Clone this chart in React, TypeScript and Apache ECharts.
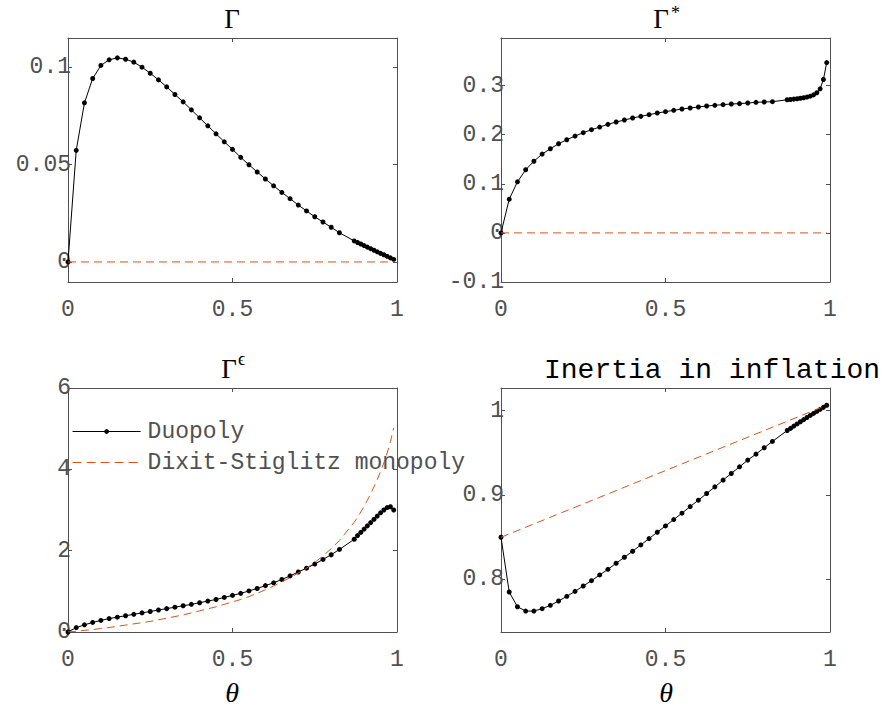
import React, { useEffect, useRef } from "react";
import * as echarts from "echarts";

// θ grid shared by the duopoly curves
const theta = [0, 0.025, 0.05, 0.075, 0.1, 0.125, 0.15, 0.175, 0.2, 0.225, 0.25, 0.275, 0.3, 0.325, 0.35, 0.375, 0.4, 0.425, 0.45, 0.475, 0.5, 0.525, 0.55, 0.575, 0.6, 0.625, 0.65, 0.675, 0.7, 0.725, 0.75, 0.775, 0.8, 0.825, 0.87, 0.88, 0.89, 0.9, 0.91, 0.92, 0.93, 0.94, 0.95, 0.96, 0.97, 0.98, 0.99];

// Γ (duopoly)
const gammaDuo = [0, 0.0573, 0.0817, 0.0942, 0.1009, 0.1038, 0.1048, 0.1041, 0.1026, 0.1, 0.0969, 0.0935, 0.0899, 0.086, 0.0822, 0.0781, 0.074, 0.0699, 0.0658, 0.0617, 0.0578, 0.0537, 0.0499, 0.0462, 0.0426, 0.0391, 0.0357, 0.0325, 0.0292, 0.0262, 0.0232, 0.0205, 0.0178, 0.015, 0.0108, 0.01, 0.0092, 0.0084, 0.0076, 0.0068, 0.006, 0.0052, 0.0044, 0.0037, 0.0029, 0.0021, 0.0013];
// Γ* (duopoly)
const gammaStarDuo = [0, 0.0687, 0.104, 0.1286, 0.146, 0.1605, 0.1714, 0.1816, 0.1898, 0.1973, 0.2041, 0.2102, 0.2156, 0.2211, 0.2259, 0.2299, 0.234, 0.2374, 0.2408, 0.2442, 0.2469, 0.2497, 0.2524, 0.2544, 0.2565, 0.2585, 0.2599, 0.2612, 0.2626, 0.2633, 0.2646, 0.266, 0.2667, 0.2673, 0.2712, 0.2718, 0.2725, 0.2733, 0.2742, 0.2753, 0.2767, 0.2785, 0.2812, 0.2855, 0.2935, 0.3125, 0.347];
// Γ^ϵ (duopoly)
const gammaEpsDuo = [0, 0.109, 0.176, 0.235, 0.285, 0.33, 0.365, 0.4, 0.435, 0.47, 0.505, 0.54, 0.575, 0.61, 0.645, 0.68, 0.72, 0.76, 0.8, 0.85, 0.9, 0.95, 1.01, 1.07, 1.14, 1.21, 1.29, 1.38, 1.475, 1.57, 1.67, 1.785, 1.9, 2.03, 2.28, 2.37, 2.45, 2.53, 2.61, 2.69, 2.77, 2.85, 2.93, 3.0, 3.06, 3.08, 3.0];
// Γ^ϵ (Dixit-Stiglitz monopoly)
const gammaEpsDS = [0, 0.02, 0.04, 0.06, 0.085, 0.11, 0.14, 0.17, 0.2, 0.23, 0.26, 0.3, 0.34, 0.38, 0.42, 0.47, 0.52, 0.57, 0.62, 0.68, 0.74, 0.8, 0.87, 0.95, 1.04, 1.13, 1.23, 1.34, 1.45, 1.57, 1.71, 1.87, 2.05, 2.25, 2.7, 2.82, 2.95, 3.09, 3.24, 3.4, 3.57, 3.75, 3.95, 4.16, 4.4, 4.68, 5.02];
// Inertia in inflation (duopoly)
const inertiaDuo = [0.8496, 0.7845, 0.767, 0.7619, 0.7619, 0.7647, 0.7687, 0.7738, 0.7794, 0.7853, 0.7917, 0.798, 0.8048, 0.8115, 0.8187, 0.8258, 0.833, 0.8405, 0.848, 0.8556, 0.8631, 0.8706, 0.8782, 0.8861, 0.8937, 0.9016, 0.9095, 0.9175, 0.9254, 0.9333, 0.9413, 0.9484, 0.956, 0.9635, 0.9765, 0.979, 0.9817, 0.9843, 0.9869, 0.9894, 0.9919, 0.9944, 0.9968, 0.9992, 1.0016, 1.004, 1.0065];

// Dixit-Stiglitz straight lines (endpoints)
const dsTheta = [0, 0.99];
const gammaDS = [0, 0];
const gammaStarDS = [0, 0];
const inertiaDS = [0.8496, 1.0065];

// tick labels
const xTicks = [0, 0.5, 1];
const yTicks1 = [0, 0.05, 0.1];
const yTicks2 = [-0.1, 0, 0.1, 0.2, 0.3];
const yTicks3 = [0, 2, 4, 6];
const yTicks4 = [0.8, 0.9, 1];

const seriesNames = ["Duopoly", "Dixit-Stiglitz monopoly"];

const pairs = (xs: number[], ys: number[]) => xs.map((x, i) => [x, ys[i]]);

const AX = "#505050";
const TXT = "#505050";
const MONO = '"Liberation Mono", "DejaVu Sans Mono", monospace';
const SERIF = '"Liberation Serif", "DejaVu Serif", serif';
const RED = "#D95319";

const fmt = (v: number) => String(Math.round(v * 10000) / 10000);

export default function App() {
  const ref = useRef<HTMLDivElement>(null);
  useEffect(() => {
    document.body.style.margin = "0";
    const chart = echarts.init(ref.current!, undefined, { renderer: "svg" });

    const grids = [
      { left: 68, top: 38, width: 329, height: 244 },
      { left: 501, top: 38, width: 329, height: 244 },
      { left: 68, top: 388, width: 329, height: 244 },
      { left: 501, top: 388, width: 329, height: 244 },
    ];
    const yRanges = [
      { min: -0.0103, max: 0.115, ticks: yTicks1 },
      { min: -0.1, max: 0.397, ticks: yTicks2 },
      { min: 0, max: 6, ticks: yTicks3 },
      { min: 0.737, max: 1.027, ticks: yTicks4 },
    ];

    const xAxis: any[] = [];
    const yAxis: any[] = [];
    grids.forEach((_, i) => {
      const common = {
        gridIndex: i,
        type: "value",
        splitLine: { show: false },
        axisLine: { show: true, onZero: false, lineStyle: { color: AX, width: 1 } },
      };
      xAxis.push({
        ...common,
        position: "bottom",
        min: 0,
        max: 1,
        axisTick: { show: true, inside: true, length: 4, lineStyle: { color: AX }, customValues: xTicks },
        axisLabel: { show: true, customValues: xTicks, formatter: fmt, fontFamily: MONO, fontSize: 23, color: TXT, margin: 16 },
      });
      xAxis.push({
        ...common,
        position: "top",
        min: 0,
        max: 1,
        axisTick: { show: true, inside: true, length: 4, lineStyle: { color: AX }, customValues: xTicks },
        axisLabel: { show: false },
      });
      const yr = yRanges[i];
      yAxis.push({
        ...common,
        position: "left",
        min: yr.min,
        max: yr.max,
        axisTick: { show: true, inside: true, length: 4, lineStyle: { color: AX }, customValues: yr.ticks },
        axisLabel: { show: true, customValues: yr.ticks, formatter: fmt, fontFamily: MONO, fontSize: 23, color: TXT, margin: -3 },
      });
      yAxis.push({
        ...common,
        position: "right",
        min: yr.min,
        max: yr.max,
        axisTick: { show: true, inside: true, length: 4, lineStyle: { color: AX }, customValues: yr.ticks },
        axisLabel: { show: false },
      });
    });

    const duo = (i: number, ys: number[], name: string) => ({
      name,
      type: "line",
      xAxisIndex: 2 * i,
      yAxisIndex: 2 * i,
      data: pairs(theta, ys),
      symbol: "circle",
      symbolSize: 5,
      showSymbol: true,
      itemStyle: { color: "#000" },
      lineStyle: { color: "#000", width: 1 },
      z: 2,
    });
    const ds = (i: number, xs: number[], ys: number[], name: string) => ({
      name,
      type: "line",
      xAxisIndex: 2 * i,
      yAxisIndex: 2 * i,
      data: pairs(xs, ys),
      symbol: "none",
      itemStyle: { color: RED },
      lineStyle: { color: RED, width: 1, type: [8, 5] },
      z: 3,
    });

    const series = [
      duo(0, gammaDuo, "Duopoly Γ"),
      ds(0, dsTheta, gammaDS, "DS Γ"),
      duo(1, gammaStarDuo, "Duopoly Γ*"),
      ds(1, dsTheta, gammaStarDS, "DS Γ*"),
      duo(2, gammaEpsDuo, seriesNames[0]),
      ds(2, theta, gammaEpsDS, seriesNames[1]),
      duo(3, inertiaDuo, "Duopoly inertia"),
      ds(3, dsTheta, inertiaDS, "DS inertia"),
    ];

    const txt = (text: string, x: number, y: number, fontSize: number, fontFamily: string, align = "center", extra: any = {}) => ({
      type: "text",
      x,
      y,
      silent: true,
      style: { text, fontSize, fontFamily, fill: "#000", align, verticalAlign: "middle", ...extra },
    });

    chart.setOption({
      animation: false,
      grid: grids.map((g) => ({ ...g, outerBoundsMode: "none" })),
      xAxis,
      yAxis,
      series,
      legend: {
        data: [
          { name: seriesNames[0], lineStyle: { width: 1 } },
          { name: seriesNames[1], itemStyle: { opacity: 0 }, lineStyle: { type: [9, 5], width: 1.2 } },
        ],
        orient: "vertical",
        left: 72,
        top: 420,
        padding: 0,
        itemWidth: 68,
        itemHeight: 6,
        itemGap: 8,
        selectedMode: false,
        textStyle: { fontFamily: MONO, fontSize: 23, color: TXT, lineHeight: 23, padding: [0, 0, 0, 2] },
      },
      graphic: [
        txt("Γ", 232, 19, 27, SERIF),
        txt("Γ", 661, 19, 27, SERIF),
        txt("*", 671, 13, 18, SERIF, "left"),
        txt("Γ", 229, 369, 27, SERIF),
        txt("ϵ", 238, 359, 18, SERIF, "left"),
        txt("Inertia in inflation", 544, 370, 28, MONO, "left"),
        txt("θ", 232, 692, 28, SERIF, "center", { fontStyle: "italic" }),
        txt("θ", 666, 692, 28, SERIF, "center", { fontStyle: "italic" }),
      ],
    });
    return () => chart.dispose();
  }, []);
  return <div ref={ref} style={{ width: 885, height: 707 }} />;
}
